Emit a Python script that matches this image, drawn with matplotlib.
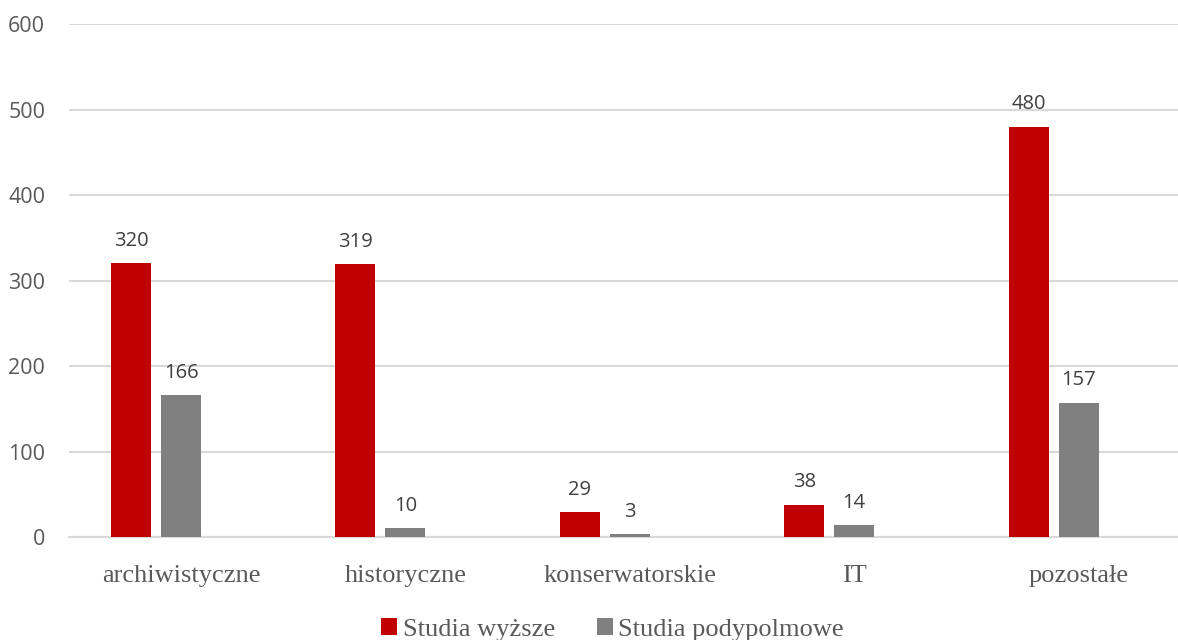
import matplotlib.pyplot as plt
import numpy as np

categories = ['archiwistyczne', 'historyczne', 'konserwatorskie', 'IT', 'pozostałe']
studia_wyzsze = [320, 319, 29, 38, 480]
studia_podyplomowe = [166, 10, 3, 14, 157]
series_names = ['Studia wyższe', 'Studia podypolmowe']

red = '#C00000'
gray = '#808080'
serif = ['Liberation Serif', 'DejaVu Serif']
sans = ['Open Sans', 'DejaVu Sans']

fig = plt.figure(figsize=(11.78, 6.4), dpi=100)
ax = fig.add_axes([0.0584, 0.1609, 0.9525, 0.8016])

x = np.arange(len(categories))
w = 0.178
off = 0.223
b1 = ax.bar(x - off, studia_wyzsze, w, color=red, label=series_names[0], zorder=3)
b2 = ax.bar(x, studia_podyplomowe, w, color=gray, label=series_names[1], zorder=3)

for bars, vals in ((b1, studia_wyzsze), (b2, studia_podyplomowe)):
    for r, v in zip(bars, vals):
        ax.annotate(str(v), (r.get_x() + r.get_width() / 2, v), xytext=(0, 9),
                    textcoords='offset points', ha='center', va='bottom',
                    fontsize=14.5, color='#404040', family=sans)

ax.set_xlim(-0.5, len(categories) - 0.5)
ax.set_ylim(0, 600)
ax.set_yticks(range(0, 601, 100))
ax.grid(axis='y', color='#D9D9D9', linewidth=1.5, zorder=0)
for s in ['top', 'right', 'left']:
    ax.spines[s].set_visible(False)
ax.spines['bottom'].set_color('#D9D9D9')
ax.spines['bottom'].set_linewidth(1.5)
ax.tick_params(length=0)
ax.tick_params(axis='y', pad=17)
ax.tick_params(axis='x', pad=20)
ax.set_xticks(x)
ax.set_xticklabels(categories, family=serif, fontsize=19, color='#595959')
for t in ax.get_yticklabels():
    t.set_family(sans)
    t.set_fontsize(15.5)
    t.set_color('#595959')

leg = fig.legend(handles=[b1, b2], loc='lower center', bbox_to_anchor=(0.52, -0.038),
                 ncol=2, frameon=False, prop={'family': serif, 'size': 19},
                 handlelength=0.6, handleheight=0.6, handletextpad=0.2, columnspacing=1.6)
for t in leg.get_texts():
    t.set_color('#595959')

fig.savefig('out.png', dpi=100)
